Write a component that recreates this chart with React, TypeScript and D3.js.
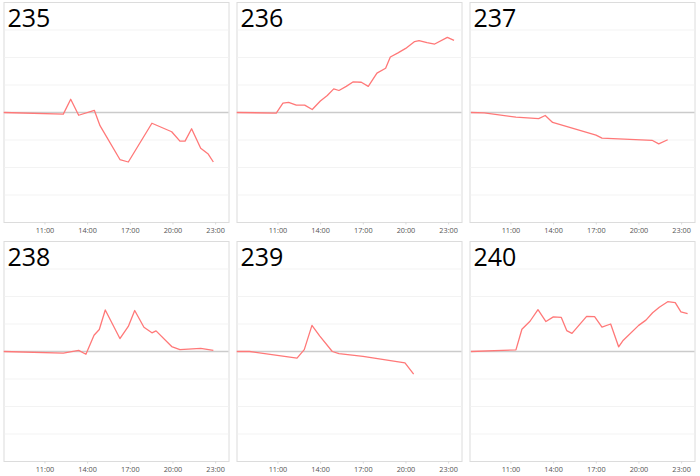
import * as React from "react";
import * as d3 from "d3";

// panel titles
const panelNames = ["235", "236", "237", "238", "239", "240"];

// hours of day (decimal) and values for each panel
const hours235 = [8.1, 12.29, 12.81, 13.37, 14.47, 14.87, 16.27, 16.86, 18.52, 19.91, 20.49, 20.85, 21.31, 21.95, 22.48, 22.84];
const values235 = [0, -0.06, 0.48, -0.1, 0.08, -0.48, -1.71, -1.8, -0.39, -0.7, -1.04, -1.04, -0.59, -1.3, -1.51, -1.8];

const hours236 = [8.1, 10.88, 11.35, 11.75, 12.29, 12.88, 13.41, 13.98, 14.47, 14.92, 15.29, 15.8, 16.27, 16.86, 17.35, 17.96, 18.57, 18.9, 19.44, 19.98, 20.61, 20.92, 21.48, 22.02, 22.91, 23.38];
const values236 = [0, -0.02, 0.34, 0.37, 0.27, 0.27, 0.11, 0.42, 0.62, 0.86, 0.8, 0.95, 1.11, 1.1, 0.95, 1.43, 1.61, 2.02, 2.17, 2.33, 2.58, 2.61, 2.54, 2.49, 2.73, 2.62];

const hours237 = [8.19, 9.12, 11.35, 12.95, 13.41, 13.93, 16.98, 17.4, 20.92, 21.39, 22.02];
const values237 = [0, -0.01, -0.17, -0.22, -0.11, -0.36, -0.82, -0.93, -1.01, -1.14, -0.99];

const hours238 = [8.1, 12.29, 13.37, 13.88, 14.45, 14.82, 15.24, 16.27, 16.86, 17.31, 17.96, 18.52, 18.81, 19.91, 20.49, 21.95, 22.84];
const values238 = [0, -0.06, 0.04, -0.1, 0.59, 0.8, 1.51, 0.47, 0.91, 1.49, 0.88, 0.68, 0.75, 0.18, 0.07, 0.11, 0.04];

const hours239 = [8.1, 9.0, 12.34, 12.85, 13.39, 13.93, 14.82, 15.29, 16.98, 19.93, 20.54];
const values239 = [0, 0, -0.24, 0.07, 0.95, 0.57, 0, -0.08, -0.18, -0.41, -0.82];

const hours240 = [8.19, 11.35, 11.77, 12.34, 12.9, 13.46, 13.98, 14.54, 14.92, 15.29, 16.32, 16.88, 17.4, 18.01, 18.57, 18.9, 19.98, 20.49, 20.96, 21.43, 22.02, 22.55, 22.95, 23.42];
const values240 = [0, 0.06, 0.81, 1.1, 1.52, 1.09, 1.26, 1.24, 0.76, 0.66, 1.28, 1.27, 0.89, 1.0, 0.17, 0.41, 0.95, 1.14, 1.41, 1.61, 1.81, 1.78, 1.44, 1.38];

const hourTicks = [11, 14, 17, 20, 23];
const yTicks = [-4, -3, -2, -1, 0, 1, 2, 3, 4];

const series = [
    [hours235, values235],
    [hours236, values236],
    [hours237, values237],
    [hours238, values238],
    [hours239, values239],
    [hours240, values240],
];

const panelW = 225;
const panelH = 220;

function Panel(props: { name: string, hours: number[], values: number[], x: number, y: number }) {
    const xScale = d3.scaleLinear().domain([8.12, 23.94]).range([0, panelW]);
    const yScale = d3.scaleLinear().domain([-4, 4]).range([panelH, 0]);

    const data = props.hours.map<[number, number]>((h, i) => [h, props.values[i]]);
    const line = d3.line()
        .x(d => xScale(d[0]))
        .y(d => yScale(d[1]));

    return <g transform={`translate(${props.x},${props.y})`}>
        <rect x={0} y={0} width={panelW} height={panelH} fill="#fff" stroke="#dcdcdc" strokeWidth={1}></rect>
        {yTicks.filter(t => t !== 0 && t !== 4 && t !== -4).map(t =>
            <line key={t} x1={0.5} x2={panelW - 0.5} y1={yScale(t)} y2={yScale(t)} stroke="#f3f3f3" strokeWidth={1}></line>
        )}
        <line x1={0.5} x2={panelW - 0.5} y1={yScale(0)} y2={yScale(0)} stroke="#cbcbcb" strokeWidth={1.5}></line>
        <path d={line(data) || ""} fill="none" stroke="#ff7878" strokeWidth={1.3} strokeLinejoin="round"></path>
        <text x={3.5} y={24.5} fontFamily="'Open Sans', sans-serif" fontSize={25} fill="#000">{props.name}</text>
        {hourTicks.map(h =>
            <g key={h} transform={`translate(${xScale(h)},${panelH})`}>
                <line y1={0} y2={2} stroke="#d0d0d0" strokeWidth={0.8}></line>
                <text y={10.5} textAnchor="middle" fontFamily="'Open Sans', sans-serif" fontSize={7.3} fill="#555">{`${h}:00`}</text>
            </g>
        )}
    </g>;
}

export default function App() {
    return <svg width={700} height={476} style={{ position: "absolute", left: 0, top: 0, background: "#fff" }}>
        {series.map((s, i) =>
            <Panel key={i} name={panelNames[i]} hours={s[0]} values={s[1]}
                x={4 + (i % 3) * 233} y={2.5 + Math.floor(i / 3) * 239}></Panel>
        )}
    </svg>;
}
